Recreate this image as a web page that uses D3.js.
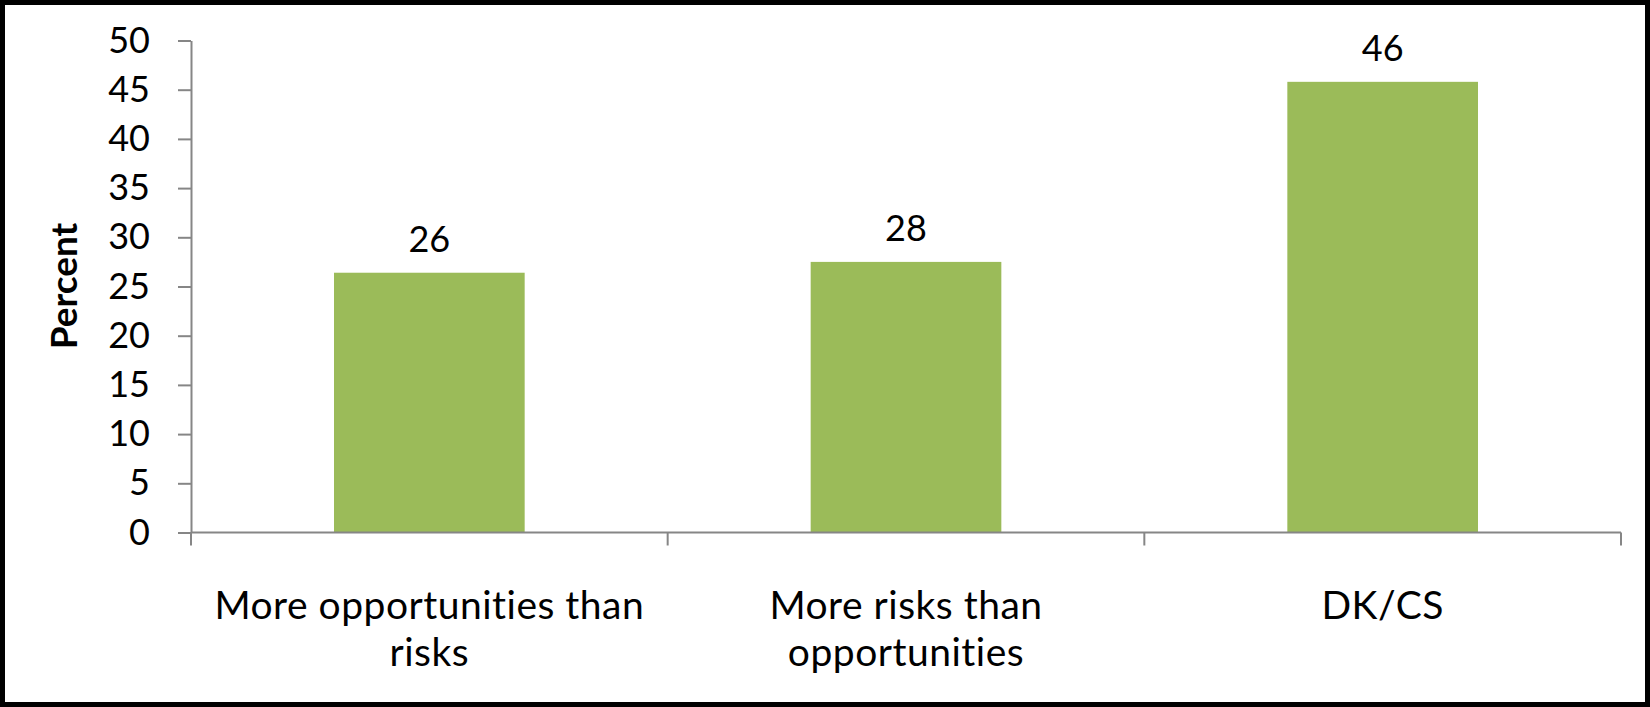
<!DOCTYPE html>
<html>
<head>
<meta charset="utf-8">
<script src="https://cdn.jsdelivr.net/npm/d3@7"></script>
<style>
    body { margin: 0; background: #fff; }
    text { font-family: Lato, "Open Sans", sans-serif; fill: #000; font-variant-ligatures: none; }
</style>
</head>
<body>
<div id="chart"></div>
<script>
// Chart data
const categories = ["More opportunities than risks", "More risks than opportunities", "DK/CS"];
const percents = [26.4, 27.5, 45.8];
const yTicks = [0, 5, 10, 15, 20, 25, 30, 35, 40, 45, 50];

const data = categories.map((c, i) => ({category: c, value: percents[i]}));

// Dimensions
const W = 1650, H = 707;
const plot = {left: 191, right: 1621, top: 40.5, bottom: 532.5};

const svg = d3.select("#chart")
    .append("svg")
    .attr("width", W)
    .attr("height", H);

// Outer frame
svg.append("rect")
    .attr("x", 2.5)
    .attr("y", 2.5)
    .attr("width", W - 5)
    .attr("height", H - 5)
    .attr("fill", "#fff")
    .attr("stroke", "#000")
    .attr("stroke-width", 5);

// Scales
const xScale = d3.scaleBand()
    .domain(categories)
    .range([plot.left, plot.right])
    .padding(0);

const yScale = d3.scaleLinear()
    .domain([0, 50])
    .range([plot.bottom, plot.top]);

const axisColor = "#868686";

// Y axis
const yAxis = svg.append("g")
    .attr("transform", `translate(${plot.left},0)`)
    .call(d3.axisLeft(yScale).tickValues(yTicks).tickSize(13).tickPadding(28).tickSizeOuter(0));

yAxis.select(".domain").attr("stroke", axisColor).attr("stroke-width", 2);
yAxis.selectAll(".tick line").attr("stroke", axisColor).attr("stroke-width", 2);
yAxis.selectAll(".tick text")
    .attr("font-size", 36)
    .attr("font-family", "Lato")
    .attr("fill", "#000");

// Bars
const barW = xScale.bandwidth() * 0.4;
svg.selectAll(".bar")
    .data(data)
    .enter()
    .append("rect")
    .attr("class", "bar")
    .attr("x", d => xScale(d.category) + (xScale.bandwidth() - barW) / 2)
    .attr("y", d => yScale(d.value))
    .attr("width", barW)
    .attr("height", d => yScale(0) - yScale(d.value))
    .attr("fill", "#9bbb59");

// X axis line and category separators
svg.append("line")
    .attr("x1", plot.left)
    .attr("x2", plot.right)
    .attr("y1", yScale(0))
    .attr("y2", yScale(0))
    .attr("stroke", axisColor)
    .attr("stroke-width", 2);

const separators = categories.map(c => xScale(c)).concat([plot.right]);
svg.selectAll(".sep")
    .data(separators)
    .enter()
    .append("line")
    .attr("class", "sep")
    .attr("x1", d => d)
    .attr("x2", d => d)
    .attr("y1", yScale(0))
    .attr("y2", yScale(0) + 13)
    .attr("stroke", axisColor)
    .attr("stroke-width", 2);

// Category labels, wrapped to fit the band
svg.selectAll(".cat")
    .data(categories)
    .enter()
    .append("text")
    .attr("class", "cat")
    .attr("text-anchor", "middle")
    .attr("font-size", 39)
    .attr("letter-spacing", 0.5)
    .attr("y", yScale(0) + 86.5)
    .each(function(d) {
        const el = d3.select(this);
        const cx = xScale(d) + xScale.bandwidth() / 2;
        const words = d.split(" ");
        let line = [];
        let tspan = el.append("tspan").attr("x", cx).attr("dy", 0);
        words.forEach(w => {
            line.push(w);
            tspan.text(line.join(" "));
            if (tspan.node().getComputedTextLength() > 445 && line.length > 1) {
                line.pop();
                tspan.text(line.join(" "));
                line = [w];
                tspan = el.append("tspan").attr("x", cx).attr("dy", 47).text(w);
            }
        });
    });

// Value labels
svg.selectAll(".val")
    .data(data)
    .enter()
    .append("text")
    .attr("class", "val")
    .attr("x", d => xScale(d.category) + xScale.bandwidth() / 2)
    .attr("y", d => yScale(d.value) - 21)
    .attr("text-anchor", "middle")
    .attr("font-size", 36)
    .text(d => Math.round(d.value));

// Y axis title
svg.append("text")
    .attr("transform", "translate(77,286) rotate(-90)")
    .attr("text-anchor", "middle")
    .attr("font-size", 37)
    .attr("font-weight", "bold")
    .text("Percent");
</script>
</body>
</html>
